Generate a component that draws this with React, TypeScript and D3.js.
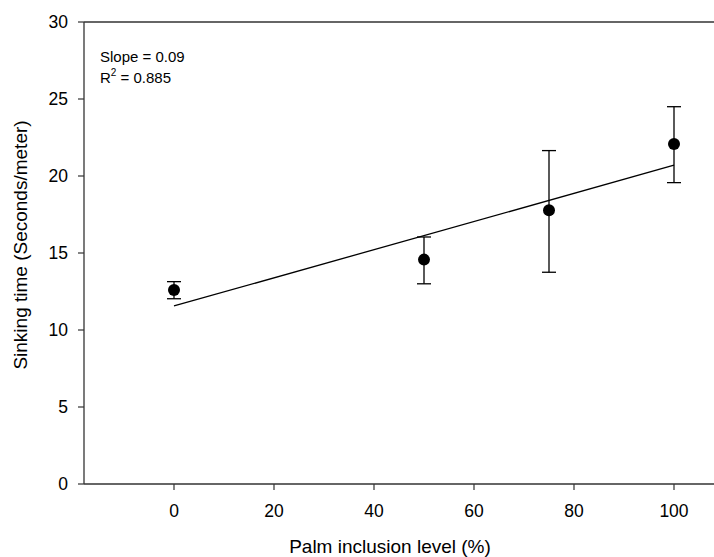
import React from "react";
import * as d3 from "d3";

const levels = [0, 50, 75, 100];
const means = [12.6, 14.57, 17.77, 22.08];
const errLow = [12.03, 13.0, 13.75, 19.57];
const errHigh = [13.14, 16.04, 21.65, 24.5];
const fitX = [0, 100];
const fitY = [11.56, 20.7];
const xTicks = [0, 20, 40, 60, 80, 100];
const yTicks = [0, 5, 10, 15, 20, 25, 30];

export default function App() {
  const W = 714, H = 557;
  const x = d3.scaleLinear().domain([0, 100]).range([174, 674]);
  const y = d3.scaleLinear().domain([0, 30]).range([484, 22]);
  const left = 84, right = 714;
  const font = "Liberation Sans, Arial, sans-serif";
  const axisColor = "#333";
  const line = d3.line<number>().x((d, i) => x(fitX[i])).y((d) => y(d));
  return (
    <svg width={W} height={H} style={{ position: "absolute", left: 0, top: 0 }} fontFamily={font}>
      <rect width={W} height={H} fill="#fff" />
      <line x1={left} x2={right} y1={y(30)} y2={y(30)} stroke={axisColor} strokeWidth={1.3} />
      <line x1={left} x2={right} y1={y(0)} y2={y(0)} stroke={axisColor} strokeWidth={1.3} />
      <line x1={left} x2={left} y1={y(0)} y2={y(30)} stroke={axisColor} strokeWidth={1.3} />
      {yTicks.map((t) => (
        <g key={"y" + t}>
          <line x1={left - 6} x2={left} y1={y(t)} y2={y(t)} stroke={axisColor} strokeWidth={1.2} />
          <text x={left - 16} y={y(t)} dy="0.36em" textAnchor="end" fontSize={17.5} fill="#000">{t}</text>
        </g>
      ))}
      {xTicks.map((t) => (
        <g key={"x" + t}>
          <line x1={x(t)} x2={x(t)} y1={y(0)} y2={y(0) + 6} stroke={axisColor} strokeWidth={1.2} />
          <text x={x(t)} y={y(0) + 33} textAnchor="middle" fontSize={17.5} fill="#000">{t}</text>
        </g>
      ))}
      <text x={390} y={553} textAnchor="middle" fontSize={19} fill="#000">Palm inclusion level (%)</text>
      <text transform={`translate(27,245) rotate(-90)`} textAnchor="middle" fontSize={19} fill="#000">Sinking time (Seconds/meter)</text>
      <path d={line(fitY) || ""} fill="none" stroke="#000" strokeWidth={1.3} />
      {levels.map((l, i) => (
        <g key={"p" + i}>
          <line x1={x(l)} x2={x(l)} y1={y(errLow[i])} y2={y(errHigh[i])} stroke="#000" strokeWidth={1.3} />
          <line x1={x(l) - 7} x2={x(l) + 7} y1={y(errLow[i])} y2={y(errLow[i])} stroke="#000" strokeWidth={1.3} />
          <line x1={x(l) - 7} x2={x(l) + 7} y1={y(errHigh[i])} y2={y(errHigh[i])} stroke="#000" strokeWidth={1.3} />
          <circle cx={x(l)} cy={y(means[i])} r={6} fill="#000" />
        </g>
      ))}
      <text x={100} y={62} fontSize={15} fill="#000">Slope = 0.09</text>
      <text x={100} y={83} fontSize={15} fill="#000">R<tspan dy={-7} fontSize={10}>2</tspan><tspan dy={7}> = 0.885</tspan></text>
    </svg>
  );
}
